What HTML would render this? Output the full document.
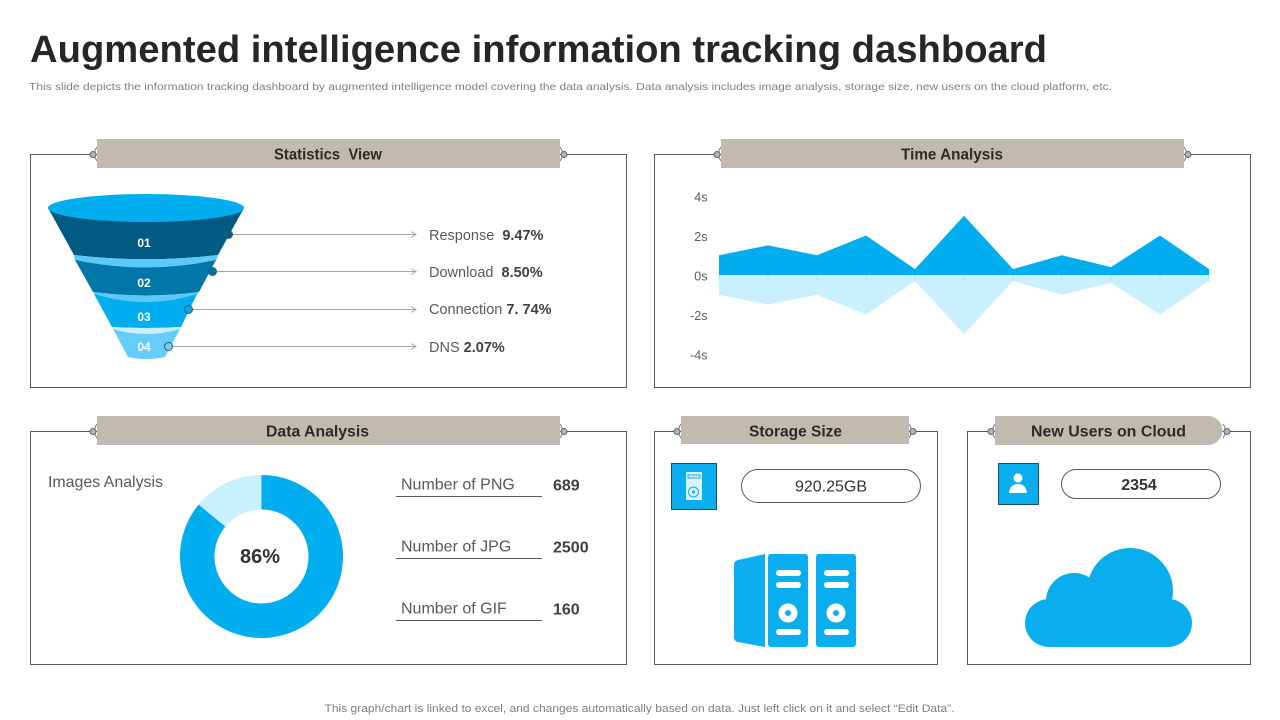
<!DOCTYPE html>
<html lang="en">
<head>
<meta charset="utf-8">
<title>Augmented intelligence information tracking dashboard</title>
<style>
html,body{margin:0;padding:0;background:#fff;width:1280px;height:720px;overflow:hidden}
svg{display:block;font-family:"Liberation Sans",sans-serif}
</style>
</head>
<body>
<svg id="page" xmlns="http://www.w3.org/2000/svg" width="1280" height="720" viewBox="0 0 1280 720">
<rect x="0" y="0" width="1280" height="720" fill="#fff"/>
<text x="30" y="62" font-size="38" font-weight="700" fill="#262626" textLength="1017" lengthAdjust="spacingAndGlyphs">Augmented intelligence information tracking dashboard</text>
<text x="29" y="90" font-size="10.5" fill="#7f7f7f" textLength="1083" lengthAdjust="spacingAndGlyphs">This slide depicts the information tracking dashboard by augmented intelligence model covering the data analysis. Data analysis includes image analysis, storage size, new users on the cloud platform, etc.</text>

<g fill="#fff" stroke="#595959" stroke-width="1">
<rect x="30.5" y="154.5" width="596" height="233"/>
<rect x="654.5" y="154.5" width="596" height="233"/>
<rect x="30.5" y="431.5" width="596" height="233"/>
<rect x="654.5" y="431.5" width="283" height="233"/>
<rect x="967.5" y="431.5" width="283" height="233"/>
</g>

<g id="header-connectors"></g>

<g fill="#c1bab0">
<rect x="97" y="139" width="463" height="29"/>
<rect x="721" y="139" width="463" height="29"/>
<rect x="97" y="416" width="463" height="29"/>
<rect x="681" y="416" width="228" height="28"/>
<path d="M995 416H1208a14.500 14.500 0 0 1 0 29H995Z"/>
</g>
<g font-size="16" font-weight="700" fill="#2b2b2b">
<text x="274" y="159.500" textLength="108" lengthAdjust="spacingAndGlyphs" xml:space="preserve">Statistics  View</text>
<text x="901" y="159.500" textLength="102" lengthAdjust="spacingAndGlyphs">Time Analysis</text>
<text x="266" y="436.500" textLength="103" lengthAdjust="spacingAndGlyphs">Data Analysis</text>
<text x="749" y="436.500" textLength="93" lengthAdjust="spacingAndGlyphs">Storage Size</text>
<text x="1031" y="436.500" textLength="155" lengthAdjust="spacingAndGlyphs">New Users on Cloud</text>
</g>

<g>
<path d="M48 208H244L218 255Q146 263.500 74 255Z" fill="#005a82"/>
<path d="M74 255Q146 263.500 218 255L216 261Q146 275 75 261Z" fill="#5cc9fb"/>
<path d="M75 260Q146 275 216 260L199 292Q146 299 93 292Z" fill="#0077a8"/>
<path d="M93 292Q146 299 199 292L197 295Q146 310 95 295Z" fill="#5cc9fb"/>
<path d="M94 294Q146 310 197 294L181 327Q146 329 112 327Z" fill="#00aeef"/>
<path d="M112 327Q146 329 181 327L180 329Q146 339 113 329Z" fill="#c7f0ff"/>
<path d="M113 329Q146 339 180 329L165 357Q146 361 128 357Z" fill="#66cdfb"/>
<ellipse cx="146" cy="208" rx="98" ry="14" fill="#00aeef"/>
</g>
<g id="funnel-callouts"></g>

<g id="area-chart"></g>
<g id="donut-chart"></g>
<text x="48" y="487" font-size="16" fill="#595959" textLength="115" lengthAdjust="spacingAndGlyphs">Images Analysis</text>
<g id="image-counts"></g>

<g>
<rect x="671.500" y="463.500" width="45" height="46" fill="#0aaeef" stroke="#1f4e63"/>
<g>
<rect x="686" y="472" width="16" height="28" fill="#d9f4ff"/>
<rect x="688" y="475" width="12" height="3" fill="none" stroke="#0aaeef"/>
<circle cx="693.500" cy="492" r="5" fill="none" stroke="#0aaeef"/>
<circle cx="693.500" cy="492" r="1.500" fill="#0aaeef"/>
</g>
<rect x="741.500" y="469.500" width="179" height="33" rx="16.500" fill="#fff" stroke="#595959"/>
<text x="831" y="491.500" font-size="16" fill="#333" text-anchor="middle">920.25GB</text>
</g>
<g fill="#0aaeef">
<path d="M765 554V647L738 642Q734 641 734 637V565Q734 561 738 560Z"/>
<rect x="768" y="554" width="40" height="93" rx="3"/>
<rect x="816" y="554" width="40" height="93" rx="3"/>
<g fill="#fff">
<rect x="776" y="570" width="25" height="6" rx="3"/>
<rect x="776" y="582" width="25" height="6" rx="3"/>
<rect x="776" y="629" width="25" height="6" rx="3"/>
<rect x="824" y="570" width="25" height="6" rx="3"/>
<rect x="824" y="582" width="25" height="6" rx="3"/>
<rect x="824" y="629" width="25" height="6" rx="3"/>
<circle cx="788" cy="613" r="9.500"/>
<circle cx="836" cy="613" r="9.500"/>
</g>
<circle cx="788" cy="613" r="3"/>
<circle cx="836" cy="613" r="3"/>
</g>

<g>
<rect x="998.500" y="463.500" width="40" height="41" fill="#0aaeef" stroke="#1f4e63"/>
<circle cx="1018" cy="478" r="4.500" fill="#fff"/>
<path d="M1009 493Q1010 484 1018 484Q1026 484 1027 493Z" fill="#fff"/>
<rect x="1061.500" y="469.500" width="159" height="29" rx="14.500" fill="#fff" stroke="#595959"/>
<text x="1139" y="490" font-size="16" font-weight="700" fill="#333" text-anchor="middle">2354</text>
</g>
<g fill="#0aaeef">
<rect x="1025" y="599" width="167" height="48" rx="24"/>
<circle cx="1130" cy="591" r="43"/>
<circle cx="1074" cy="601" r="28"/>
</g>

<text x="639.500" y="712" font-size="11" fill="#7f7f7f" text-anchor="middle" textLength="630" lengthAdjust="spacingAndGlyphs">This graph/chart is linked to excel,  and changes automatically based on data. Just left click on it and select “Edit Data”.</text>

<script>
// Time analysis chart data
const timeCategories = ["1","2","3","4","5","6","7","8","9","10","11"];
const timePositive = [1, 1.5, 1, 2, 0.3, 3, 0.3, 1, 0.4, 2, 0.3];
const timeNegative = [-1, -1.5, -1, -2, -0.3, -3, -0.3, -1, -0.4, -2, -0.3];
const timeTicks = [4, 2, 0, -2, -4];
const timeTickLabels = ["4s", "2s", "0s", "-2s", "-4s"];
// Image analysis donut data
const donutValues = [86, 14];
const donutCenterLabel = "86%";
// Funnel callouts
const funnelNames = ["Response", "Download", "Connection", "DNS"];
const funnelPrinted = ["9.47%", "8.50%", "7. 74%", "2.07%"];
const funnelLevels = ["01", "02", "03", "04"];
// Image counts
const imageCountNames = ["Number of PNG", "Number of JPG", "Number of GIF"];
const imageCountValues = [689, 2500, 160];

const NS = "http://www.w3.org/2000/svg";
function make(parent, tag, attrs) {
  const el = document.createElementNS(NS, tag);
  for (const k in attrs) el.setAttribute(k, attrs[k]);
  parent.appendChild(el);
  return el;
}

// Header connectors
const connectorSpots = [[93,154,1],[564,154,-1],[717,154,1],[1188,154,-1],[93,431,1],[564,431,-1],[677,431,1],[913,431,-1],[991,431,1],[1227,431,-1]];
const connectorGroup = document.getElementById("header-connectors");
connectorSpots.forEach(function (c) {
  const arc = make(connectorGroup, "path", {d: "M" + (c[0] + 4 * c[2]) + " " + (c[1] - 7) + "Q" + (c[0] - 1 * c[2]) + " " + c[1] + " " + (c[0] + 4 * c[2]) + " " + (c[1] + 7), fill: "none", stroke: "#777"});
  
  
  const dot = make(connectorGroup, "circle", {cx: c[0], cy: c[1] + 0.5, r: 3, fill: "#b5b5b5", stroke: "#666"});
  
  
});

// Funnel callouts
const calloutGroup = document.getElementById("funnel-callouts");
const calloutRows = [[228.500,234.500,"#0b5a80",240,247,4],[212.500,271.500,"#0b6f9e",277,287,4],[188.500,309.500,"#1a9fd8",314,321,0],[168.500,346.500,"#7cc8ee",352,351,0]];
funnelNames.forEach(function (name, i) {
  const r = calloutRows[i];
  const level = make(calloutGroup, "text", {x: 144, y: r[4], "font-size": 12, "font-weight": 700, fill: "#fff", "text-anchor": "middle"});
  level.textContent = funnelLevels[i];
  
  
  const line = make(calloutGroup, "line", {x1: r[0], y1: r[1], x2: 416, y2: r[1], stroke: "#a6a6a6"});
  
  
  const head = make(calloutGroup, "path", {d: "M411 " + (r[1] - 3) + "L416 " + r[1] + "L411 " + (r[1] + 3), fill: "none", stroke: "#a6a6a6"});
  
  
  const dot = make(calloutGroup, "circle", {cx: r[0], cy: r[1], r: 4, fill: r[2], stroke: "#1f5f80"});
  
  
  const label = make(calloutGroup, "text", {x: 429, y: r[3], "font-size": 14.500, fill: "#595959"});
  
  
  const nameSpan = make(label, "tspan", {});
  nameSpan.textContent = name + " ";
  const valueSpan = make(label, "tspan", {"font-weight": 700, fill: "#404040", dx: r[5]});
  valueSpan.textContent = funnelPrinted[i];
});

// Area chart
const areaGroup = document.getElementById("area-chart");
function timeX(i) { return 719 + i * (490 / (timeCategories.length - 1)); }
function timeY(v) { return 275 - v * 19.750; }
function areaPath(values) {
  let d = "M" + timeX(0) + " " + timeY(0);
  values.forEach(function (v, i) { d += "L" + timeX(i) + " " + timeY(v); });
  return d + "L" + timeX(values.length - 1) + " " + timeY(0) + "Z";
}
const negArea = make(areaGroup, "path", {d: areaPath(timeNegative), fill: "#c9f0ff"});


timeCategories.forEach(function (c, i) {
  const tick = make(areaGroup, "line", {x1: timeX(i), y1: timeY(0), x2: timeX(i), y2: timeY(0) + 6, stroke: "#b5dfee"});
  
  
});
const posArea = make(areaGroup, "path", {d: areaPath(timePositive), fill: "#00aeef"});


timeTicks.forEach(function (t, i) {
  const label = make(areaGroup, "text", {x: 707.500, y: timeY(t) + 5.500, "font-size": 12.500, fill: "#595959", "text-anchor": "end"});
  label.textContent = timeTickLabels[i];
  
  
});

// Donut
const donutGroup = document.getElementById("donut-chart");
const donutCx = 261.500, donutCy = 556.500, donutOuter = 81.500, donutInner = 47;
const donutColors = ["#00aeef", "#c9f0ff"];
const donutTotal = donutValues.reduce(function (a, b) { return a + b; }, 0);
function polar(r, frac) {
  const a = frac * 2 * Math.PI - Math.PI / 2;
  return (donutCx + r * Math.cos(a)) + " " + (donutCy + r * Math.sin(a));
}
let donutRun = 0;
donutValues.forEach(function (v, i) {
  const a0 = donutRun / donutTotal, a1 = (donutRun + v) / donutTotal;
  const large = a1 - a0 > 0.5 ? 1 : 0;
  const d = "M" + polar(donutOuter, a0) + "A" + donutOuter + " " + donutOuter + " 0 " + large + " 1 " + polar(donutOuter, a1) +
    "L" + polar(donutInner, a1) + "A" + donutInner + " " + donutInner + " 0 " + large + " 0 " + polar(donutInner, a0) + "Z";
  const slice = make(donutGroup, "path", {d: d, fill: donutColors[i]});
  
  
  donutRun += v;
});
const donutText = make(donutGroup, "text", {x: 260, y: 563, "font-size": 20, "font-weight": 700, fill: "#333", "text-anchor": "middle"});
donutText.textContent = donutCenterLabel;



// Image counts
const countGroup = document.getElementById("image-counts");
imageCountNames.forEach(function (name, i) {
  const y = 497 + i * 62;
  const label = make(countGroup, "text", {x: 401, y: y - 7.500, "font-size": 16, fill: "#595959"});
  label.textContent = name;
  
  
  const rule = make(countGroup, "line", {x1: 396, y1: y - 0.500, x2: 542, y2: y - 0.500, stroke: "#595959"});
  
  
  const value = make(countGroup, "text", {x: 553, y: y - 6.500, "font-size": 16, "font-weight": 700, fill: "#404040"});
  value.textContent = imageCountValues[i];
  
  
});
</script>
</svg>
</body>
</html>
